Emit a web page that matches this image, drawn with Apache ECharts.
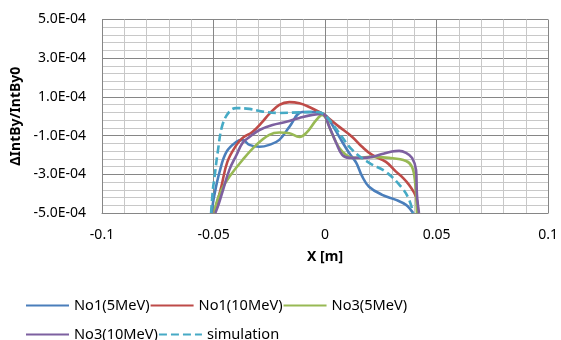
<!DOCTYPE html>
<html>
<head>
<meta charset="utf-8">
<script src="https://cdn.jsdelivr.net/npm/echarts@6/dist/echarts.min.js"></script>
<style>
  html, body { margin: 0; padding: 0; background: #fff; }
  #main { width: 561px; height: 340px; }
</style>
</head>
<body>
<div id="main"></div>
<script>
// x positions [m] and dIntBy/IntBy0 values (in units of 1e-4)
const no1_5X = [-0.0509, -0.0496, -0.0473, -0.0442, -0.0397, -0.037, -0.0339, -0.0294, -0.025, -0.0205, -0.016, -0.0102, -0.0039, 0, 0.0019, 0.0064, 0.0108, 0.014, 0.0166, 0.0197, 0.0256, 0.0318, 0.0363, 0.0385, 0.0395];
const no1_5Y = [-5.0, -4.06, -2.88, -1.84, -1.32, -1.22, -1.48, -1.58, -1.48, -1.22, -0.55, 0.22, 0.22, 0.07, -0.19, -1.07, -1.9, -2.41, -3.1, -3.64, -4.06, -4.32, -4.58, -4.85, -5.0];

const no1_10X = [-0.0497, -0.0466, -0.0438, -0.0397, -0.037, -0.0326, -0.0281, -0.025, -0.0205, -0.016, -0.0115, -0.0071, -0.0026, 0, 0.0064, 0.0122, 0.0166, 0.0211, 0.0273, 0.0318, 0.0345, 0.0377, 0.0408, 0.0417];
const no1_10Y = [-5.0, -3.69, -2.36, -1.48, -1.12, -0.81, -0.29, 0.12, 0.59, 0.73, 0.67, 0.48, 0.22, 0.04, -0.55, -1.07, -1.58, -2.0, -2.36, -2.86, -3.13, -3.55, -4.17, -5.0];

const no3_5X = [-0.0496, -0.0487, -0.0464, -0.0429, -0.037, -0.0308, -0.025, -0.0205, -0.016, -0.0115, -0.0084, -0.0039, -0.0013, 0.0035, 0.0064, 0.0095, 0.0122, 0.0162, 0.0198, 0.0287, 0.0363, 0.039, 0.0404, 0.0412];
const no3_5Y = [-5.0, -4.48, -3.8, -3.13, -2.26, -1.48, -0.96, -0.84, -0.88, -1.07, -0.86, -0.19, 0.07, -1.0, -1.64, -2.0, -2.15, -2.15, -2.1, -2.15, -2.31, -2.62, -3.44, -5.0];

const no3_10X = [-0.0492, -0.0478, -0.046, -0.0429, -0.0397, -0.037, -0.0339, -0.0294, -0.0236, -0.0174, -0.0115, -0.0057, -0.0013, 0.0019, 0.005, 0.0077, 0.0108, 0.0166, 0.0211, 0.0256, 0.03, 0.0332, 0.0363, 0.039, 0.0408, 0.0412, 0.0421];
const no3_10Y = [-5.0, -4.58, -3.91, -2.77, -2.0, -1.38, -1.07, -0.71, -0.45, -0.29, -0.09, 0.07, 0.12, -0.55, -1.38, -2.0, -2.15, -2.15, -2.1, -1.95, -1.82, -1.79, -1.89, -2.15, -2.77, -4.06, -5.0];

const simX = [-0.0511, -0.0503, -0.0496, -0.0481, -0.046, -0.0429, -0.0399, -0.0339, -0.0281, -0.0205, -0.0115, -0.0035, 0, 0.0064, 0.0122, 0.0198, 0.0273, 0.0345, 0.0377, 0.0395];
const simY = [-5.0, -3.8, -3.19, -1.84, -0.45, 0.24, 0.42, 0.38, 0.24, 0.17, 0.2, 0.22, 0.05, -0.88, -1.74, -2.41, -2.88, -3.7, -4.32, -5.0];

const names = ["No1(5MeV)", "No1(10MeV)", "No3(5MeV)", "No3(10MeV)", "simulation"];
const colors = ["#4A7EBB", "#BE4B48", "#98B954", "#7D60A0", "#46AAC5"];

const pairs = (xs, ys) => xs.map((x, i) => [x, ys[i] * 1e-4]);

const yLabel = (v) => {
  const parts = v.toExponential(1).split("e");
  let exp = parseInt(parts[1], 10);
  const sign = exp < 0 ? "-" : "+";
  exp = Math.abs(exp);
  return parts[0] + "E" + sign + (exp < 10 ? "0" : "") + exp;
};

const font = "Noto Sans";
const chart = echarts.init(document.getElementById("main"));

const lineSeries = (name, data, color, dashed) => ({
  name: name,
  type: "line",
  data: data,
  smooth: 0.4,
  symbol: "none",
  lineStyle: { width: 2.6, color: color, type: dashed ? [8, 4] : "solid" },
  itemStyle: { color: color },
});

const legendBase = {
  left: 20,
  itemWidth: 43,
  itemHeight: 14,
  itemGap: 0,
  itemStyle: { opacity: 0 },
  textStyle: { fontFamily: font, fontSize: 14.6, color: "#000", width: 90 },
};

chart.setOption({
  animation: false,
  color: colors,
  grid: { left: 102, right: 12, top: 19.5, bottom: 127 },
  xAxis: {
    type: "value",
    min: -0.1,
    max: 0.1,
    interval: 0.05,
    name: "X [m]",
    nameLocation: "middle",
    nameGap: 37,
    nameTextStyle: { fontFamily: font, fontSize: 14, fontWeight: "bold", color: "#000" },
    axisLine: { show: true, onZero: false, lineStyle: { color: "#868686", width: 1 } },
    axisTick: { show: false },
    axisLabel: {
      margin: 15,
      fontFamily: font,
      fontSize: 14,
      color: "#000",
      formatter: (v) => String(+v.toFixed(2)),
    },
    splitLine: { show: true, lineStyle: { color: "#868686", width: 1 } },
    minorTick: { show: false, splitNumber: 5 },
    minorSplitLine: { show: true, lineStyle: { color: "#C8C8C8", width: 1 } },
  },
  yAxis: {
    type: "value",
    min: -5e-4,
    max: 5e-4,
    interval: 2e-4,
    name: "ΔIntBy/IntBy0",
    nameLocation: "middle",
    nameGap: 76,
    nameRotate: 90,
    nameTextStyle: { fontFamily: font, fontSize: 14, fontWeight: "bold", color: "#000" },
    axisLine: { show: true, onZero: false, lineStyle: { color: "#868686", width: 1 } },
    axisTick: { show: false },
    axisLabel: {
      margin: 16,
      fontFamily: font,
      fontSize: 14,
      color: "#000",
      formatter: yLabel,
    },
    splitLine: { show: true, lineStyle: { color: "#868686", width: 1 } },
    minorTick: { show: false, splitNumber: 5 },
    minorSplitLine: { show: true, lineStyle: { color: "#C8C8C8", width: 1 } },
  },
  legend: [
    Object.assign({}, legendBase, { data: names.slice(0, 3), top: 293 }),
    Object.assign({}, legendBase, { data: names.slice(3), top: 322 }),
  ],
  series: [
    lineSeries(names[0], pairs(no1_5X, no1_5Y), colors[0], false),
    lineSeries(names[1], pairs(no1_10X, no1_10Y), colors[1], false),
    lineSeries(names[2], pairs(no3_5X, no3_5Y), colors[2], false),
    lineSeries(names[3], pairs(no3_10X, no3_10Y), colors[3], false),
    lineSeries(names[4], pairs(simX, simY), colors[4], true),
  ],
});
</script>
</body>
</html>
